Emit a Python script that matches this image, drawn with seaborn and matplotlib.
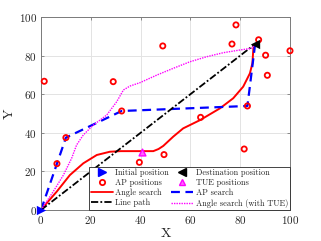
import matplotlib
matplotlib.use("Agg")
import matplotlib.pyplot as plt
from matplotlib.lines import Line2D
import pandas as pd
import seaborn as sns

# AP (access point) positions
ap_x = [1.3, 29.0, 48.9, 32.4, 78.3, 76.7, 87.4, 100.0, 90.2, 90.9, 82.9, 64.1, 10.0, 6.4, 39.5, 49.4, 81.6]
ap_y = [66.7, 66.5, 85.0, 51.3, 95.9, 86.0, 88.2, 82.5, 80.2, 69.8, 53.9, 48.0, 37.5, 24.0, 24.7, 28.7, 31.6]

start = (0, 0)
dest = (86, 86)
tue_x = [40.4]
tue_y = [30.2]

# angle search path
angle_x = [0, 3, 6.3, 11.6, 17.0, 22.4, 27.7, 32, 39.8, 45.1, 47.2, 49.1, 53.1, 57.1, 63.9, 71.9, 77.2, 81.2, 83.9, 84.9, 85.3, 86]
angle_y = [0, 4.6, 9.5, 18.1, 24.2, 28.5, 30.2, 30.5, 30.5, 30.5, 31.6, 33.2, 38.0, 42.3, 46.6, 52.7, 57.9, 63.9, 70.8, 76.0, 83.8, 86]

# AP search path
ap_path_x = [0, 6.4, 10.0, 32.4, 82.9, 86]
ap_path_y = [0, 24.0, 37.5, 51.3, 53.9, 86]

# angle search with TUE
tue_path_x = [0, 4.9, 9.0, 12.3, 14.3, 17.0, 21.0, 26.4, 30.4, 33.1, 35.7, 39.8, 46.5, 53.1, 59.8, 66.5, 73.2, 79.9, 84.6, 86]
tue_path_y = [0, 9.5, 18.1, 26.8, 33.7, 38.9, 44.0, 49.2, 56.1, 62.2, 64.2, 66.0, 69.9, 73.4, 76.8, 79.4, 81.5, 82.9, 83.8, 86]

sns.set_theme(style="whitegrid")
plt.rcParams["font.family"] = ["cmr10", "DejaVu Serif"]
plt.rcParams["axes.formatter.use_mathtext"] = True
plt.rcParams["mathtext.fontset"] = "cm"

fig = plt.figure(figsize=(3.21, 2.41), dpi=100)
ax = fig.add_axes([41 / 321, 1 - 210 / 241, 249 / 321, 193 / 241])

ang = pd.DataFrame({"x": angle_x, "y": angle_y})
aps = pd.DataFrame({"x": ap_path_x, "y": ap_path_y})
tue = pd.DataFrame({"x": tue_path_x, "y": tue_path_y})
line = pd.DataFrame({"x": [start[0], dest[0]], "y": [start[1], dest[1]]})

dashdot = (0, (4, 1.2, 1, 1.2))
dashed = (0, (4, 2.5))
dotted = (0, (1, 0.8))

sns.lineplot(data=ang, x="x", y="y", sort=False, estimator=None, color="red", linewidth=1.4, ax=ax)
sns.lineplot(data=aps, x="x", y="y", sort=False, estimator=None, color="blue", linewidth=1.6,
             ax=ax, linestyle=dashed)
sns.lineplot(data=line, x="x", y="y", sort=False, estimator=None, color="black", linewidth=1.3,
             ax=ax, linestyle=dashdot)
sns.lineplot(data=tue, x="x", y="y", sort=False, estimator=None, color="magenta", linewidth=1.0,
             ax=ax, linestyle=dotted)

sns.scatterplot(x=ap_x, y=ap_y, marker="o", s=14, facecolor="none", edgecolor="red",
                linewidth=1.3, ax=ax, clip_on=False, zorder=5)
sns.scatterplot(x=tue_x, y=tue_y, marker="^", s=24, color="#ff66ff", edgecolor="magenta",
                linewidth=1.0, ax=ax, zorder=5)
sns.scatterplot(x=[start[0]], y=[start[1]], marker=">", s=45, color="blue", linewidth=0,
                ax=ax, clip_on=False, zorder=6)
sns.scatterplot(x=[dest[0]], y=[dest[1]], marker="<", s=45, color="black", linewidth=0,
                ax=ax, zorder=6)

ax.set_xlim(0, 100)
ax.set_ylim(0, 100)
ax.set_xticks([0, 20, 40, 60, 80, 100])
ax.set_yticks([0, 20, 40, 60, 80, 100])
ax.grid(True, color="#e3e3e3", linewidth=0.7)
for s in ax.spines.values():
    s.set_color("#7a7a7a")
    s.set_linewidth(0.7)
ax.tick_params(direction="in", length=2.5, width=0.6, colors="#7a7a7a", labelcolor="#262626",
               labelsize=8, pad=3, top=True, right=True, bottom=True, left=True)
ax.set_xlabel("X", fontsize=10, color="#262626", labelpad=1)
ax.set_ylabel("Y", fontsize=10, color="#262626", labelpad=2)

handles = [
    Line2D([], [], marker=">", color="blue", linestyle="none", markersize=6),
    Line2D([], [], marker="o", markerfacecolor="none", markeredgecolor="red", markeredgewidth=1.3,
           linestyle="none", markersize=3.8),
    Line2D([], [], color="red", linewidth=1.3),
    Line2D([], [], color="black", linewidth=1.3, linestyle=dashdot),
    Line2D([], [], marker="<", color="black", linestyle="none", markersize=6),
    Line2D([], [], marker="^", markerfacecolor="#ff66ff", markeredgecolor="magenta", linestyle="none",
           markersize=5),
    Line2D([], [], color="blue", linewidth=1.6, linestyle=dashed),
    Line2D([], [], color="magenta", linewidth=1.0, linestyle=dotted),
]
labels = ["Initial position", "AP positions", "Angle search", "Line path",
          "Destination position", "TUE positions", "AP search", "Angle search (with TUE)"]
leg = ax.legend(handles, labels, loc="lower right", ncol=2, fontsize=6.0, frameon=True,
                fancybox=False, borderaxespad=0, handlelength=2.6, handletextpad=0.3,
                columnspacing=0.3, labelspacing=0.2, borderpad=0.25)
leg.get_frame().set_edgecolor("#262626")
leg.get_frame().set_linewidth(0.6)
leg.get_frame().set_alpha(1)

fig.savefig("out.png", dpi=100)
